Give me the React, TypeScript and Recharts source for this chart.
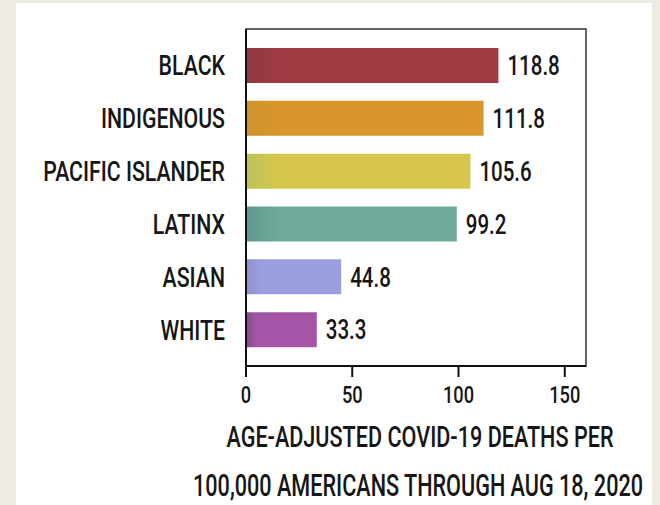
import * as Recharts from 'recharts';
import { BarChart, Bar, XAxis, YAxis, Cell, LabelList } from 'recharts';

const groups = ['BLACK', 'INDIGENOUS', 'PACIFIC ISLANDER', 'LATINX', 'ASIAN', 'WHITE'];
const deaths = [118.8, 111.8, 105.6, 99.2, 44.8, 33.3];
const barColors = ['#a03b42', '#d8962c', '#d6c74c', '#6ea99a', '#9c9de0', '#a455a8'];
const barEdges = ['#8e3a44', '#d0932e', '#bcc35a', '#5f9a8c', '#8f91c8', '#7c4e80'];
const xTicks = [0, 50, 100, 150];
const titleLines = ['AGE-ADJUSTED COVID-19 DEATHS PER', '100,000 AMERICANS THROUGH AUG 18, 2020'];

const data = groups.map((g, i) => ({ group: g, value: deaths[i] }));

const FONT = 'Roboto, "DejaVu Sans", sans-serif';
const SQUEEZE = 0.76;

// roboto pushed narrow to look like the condensed face of the original
function SText({ x, y, anchor, size, dy, len, children }: any) {
  return (
    <g transform={`translate(${x},${y}) scale(${SQUEEZE},1)`}>
      <text
        x={0}
        y={0}
        dy={dy}
        textAnchor={anchor}
        fontSize={size}
        fontWeight={500}
        fill="#161616"
        fontFamily={FONT}
        textLength={len ? len / SQUEEZE : undefined}
        lengthAdjust={len ? 'spacingAndGlyphs' : undefined}
      >
        {children}
      </text>
    </g>
  );
}

// box round the plot area, taken from the chart's own layout
function Frame() {
  const hook = (Recharts as any).usePlotArea;
  const area = hook ? hook() : null;
  if (!area) return null;
  return <rect x={area.x} y={area.y} width={area.width} height={area.height} fill="none" stroke="#333" strokeWidth={1.5} />;
}

function GroupTick({ x, y, payload }: any) {
  return <SText x={x - 13} y={y} dy="0.36em" anchor="end" size={28}>{payload.value}</SText>;
}

function ValueTick({ x, y, payload }: any) {
  return <SText x={x} y={y} dy="0.71em" anchor="middle" size={24}>{payload.value}</SText>;
}

function ValueLabel({ x, y, width, height, value }: any) {
  return <SText x={x + width + 9} y={y + height / 2} dy="0.36em" anchor="start" size={27}>{Number(value).toFixed(1)}</SText>;
}

function AxisTitle({ viewBox }: any) {
  const cx = viewBox.x + viewBox.width / 2 + 4;
  return (
    <g>
      <SText x={cx} y={viewBox.y + 81} anchor="middle" size={29} len={387}>{titleLines[0]}</SText>
      <SText x={cx - 2} y={viewBox.y + 130} anchor="middle" size={31} len={450}>{titleLines[1]}</SText>
    </g>
  );
}

export default function App() {
  return (
    <div style={{ position: 'absolute', left: 0, top: 0, width: 660, height: 505, background: '#eeebe3' }}>
      <div style={{ position: 'absolute', left: 16, top: 3, width: 636, height: 502, background: '#fff' }}>
        <BarChart
          width={636}
          height={502}
          data={data}
          layout="vertical"
          margin={{ top: 26, right: 66, left: 0, bottom: 99 }}
        >
          <defs>
            {barColors.map((c, i) => (
              <linearGradient key={i} id={`bar${i}`} x1="0" y1="0" x2="1" y2="0">
                <stop offset="0" stopColor={barEdges[i]} />
                <stop offset="0.15" stopColor={c} />
                <stop offset="1" stopColor={c} />
              </linearGradient>
            ))}
          </defs>
          <Frame />
          <XAxis
            type="number"
            domain={[0, 160]}
            ticks={xTicks}
            tickSize={11}
            tickMargin={9}
            axisLine={{ stroke: '#111', strokeWidth: 2 }}
            tickLine={{ stroke: '#111', strokeWidth: 2 }}
            tick={<ValueTick />}
            height={40}
            label={<AxisTitle />}
          />
          <YAxis
            type="category"
            dataKey="group"
            width={230}
            padding={{ top: 10, bottom: 10 }}
            tickLine={false}
            axisLine={{ stroke: '#111', strokeWidth: 2 }}
            tick={<GroupTick />}
          />
          <Bar dataKey="value" barSize={35} isAnimationActive={false}>
            {data.map((d, i) => (
              <Cell key={d.group} fill={`url(#bar${i})`} />
            ))}
            <LabelList dataKey="value" content={<ValueLabel />} />
          </Bar>
        </BarChart>
      </div>
    </div>
  );
}
